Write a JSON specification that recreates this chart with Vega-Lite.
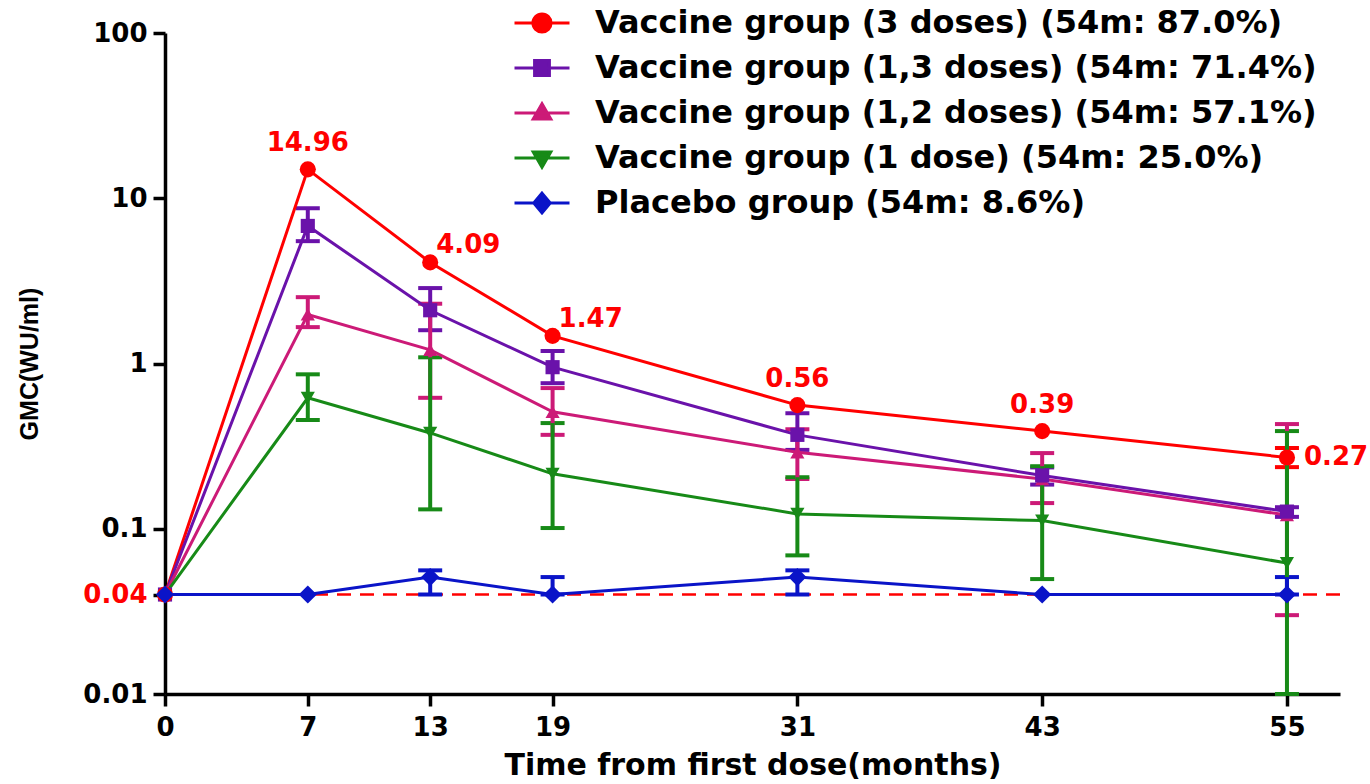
{
  "$schema": "https://vega.github.io/schema/vega-lite/v6.json",
  "autosize": "none",
  "width": 1175,
  "height": 661,
  "padding": {"left": 165, "top": 33, "right": 30, "bottom": 90},
  "background": "white",
  "config": {
    "view": {"stroke": null},
    "font": "DejaVu Sans",
    "axis": {
      "domainColor": "black", "domainWidth": 3.5, "tickColor": "black", "tickWidth": 3.5, "tickSize": 12,
      "labelFont": "DejaVu Sans", "labelFontWeight": "bold", "labelFontSize": 26, "labelColor": "black",
      "titleFont": "DejaVu Sans", "titleFontWeight": "bold", "titleColor": "black", "grid": false
    },
    "legend": {
      "orient": "none", "legendX": 348, "legendY": -39, "direction": "vertical",
      "labelFont": "DejaVu Sans", "labelFontWeight": "bold", "labelFontSize": 32, "labelColor": "black",
      "labelLimit": 1000, "symbolSize": 3025, "symbolStrokeWidth": 3, "labelOffset": 24,
      "rowPadding": 0, "padding": 0
    }
  },
  "datasets": {
    "series": [
      {"group": "Vaccine group (3 doses) (54m: 87.0%)", "t": 0, "gmc": 0.04},
      {"group": "Vaccine group (3 doses) (54m: 87.0%)", "t": 7, "gmc": 14.96},
      {"group": "Vaccine group (3 doses) (54m: 87.0%)", "t": 13, "gmc": 4.09},
      {"group": "Vaccine group (3 doses) (54m: 87.0%)", "t": 19, "gmc": 1.47},
      {"group": "Vaccine group (3 doses) (54m: 87.0%)", "t": 31, "gmc": 0.56},
      {"group": "Vaccine group (3 doses) (54m: 87.0%)", "t": 43, "gmc": 0.39},
      {"group": "Vaccine group (3 doses) (54m: 87.0%)", "t": 55, "gmc": 0.27},
      {"group": "Vaccine group (1,3 doses) (54m: 71.4%)", "t": 0, "gmc": 0.04},
      {"group": "Vaccine group (1,3 doses) (54m: 71.4%)", "t": 7, "gmc": 6.8},
      {"group": "Vaccine group (1,3 doses) (54m: 71.4%)", "t": 13, "gmc": 2.1},
      {"group": "Vaccine group (1,3 doses) (54m: 71.4%)", "t": 19, "gmc": 0.95},
      {"group": "Vaccine group (1,3 doses) (54m: 71.4%)", "t": 31, "gmc": 0.37},
      {"group": "Vaccine group (1,3 doses) (54m: 71.4%)", "t": 43, "gmc": 0.21},
      {"group": "Vaccine group (1,3 doses) (54m: 71.4%)", "t": 55, "gmc": 0.127},
      {"group": "Vaccine group (1,2 doses) (54m: 57.1%)", "t": 0, "gmc": 0.04},
      {"group": "Vaccine group (1,2 doses) (54m: 57.1%)", "t": 7, "gmc": 1.98},
      {"group": "Vaccine group (1,2 doses) (54m: 57.1%)", "t": 13, "gmc": 1.21},
      {"group": "Vaccine group (1,2 doses) (54m: 57.1%)", "t": 19, "gmc": 0.51},
      {"group": "Vaccine group (1,2 doses) (54m: 57.1%)", "t": 31, "gmc": 0.29},
      {"group": "Vaccine group (1,2 doses) (54m: 57.1%)", "t": 43, "gmc": 0.2},
      {"group": "Vaccine group (1,2 doses) (54m: 57.1%)", "t": 55, "gmc": 0.121},
      {"group": "Vaccine group (1 dose) (54m: 25.0%)", "t": 0, "gmc": 0.04},
      {"group": "Vaccine group (1 dose) (54m: 25.0%)", "t": 7, "gmc": 0.62},
      {"group": "Vaccine group (1 dose) (54m: 25.0%)", "t": 13, "gmc": 0.38},
      {"group": "Vaccine group (1 dose) (54m: 25.0%)", "t": 19, "gmc": 0.215},
      {"group": "Vaccine group (1 dose) (54m: 25.0%)", "t": 31, "gmc": 0.123},
      {"group": "Vaccine group (1 dose) (54m: 25.0%)", "t": 43, "gmc": 0.112},
      {"group": "Vaccine group (1 dose) (54m: 25.0%)", "t": 55, "gmc": 0.062},
      {"group": "Placebo group (54m: 8.6%)", "t": 0, "gmc": 0.04},
      {"group": "Placebo group (54m: 8.6%)", "t": 7, "gmc": 0.04},
      {"group": "Placebo group (54m: 8.6%)", "t": 13, "gmc": 0.051},
      {"group": "Placebo group (54m: 8.6%)", "t": 19, "gmc": 0.04},
      {"group": "Placebo group (54m: 8.6%)", "t": 31, "gmc": 0.051},
      {"group": "Placebo group (54m: 8.6%)", "t": 43, "gmc": 0.04},
      {"group": "Placebo group (54m: 8.6%)", "t": 55, "gmc": 0.04}
    ],
    "errs": [
      {"group": "Vaccine group (3 doses) (54m: 87.0%)", "t": 55, "lo": 0.236, "hi": 0.308},
      {"group": "Vaccine group (1,3 doses) (54m: 71.4%)", "t": 7, "lo": 5.5, "hi": 8.7},
      {"group": "Vaccine group (1,3 doses) (54m: 71.4%)", "t": 13, "lo": 1.59, "hi": 2.86},
      {"group": "Vaccine group (1,3 doses) (54m: 71.4%)", "t": 19, "lo": 0.76, "hi": 1.19},
      {"group": "Vaccine group (1,3 doses) (54m: 71.4%)", "t": 31, "lo": 0.3, "hi": 0.5},
      {"group": "Vaccine group (1,3 doses) (54m: 71.4%)", "t": 43, "lo": 0.185, "hi": 0.235},
      {"group": "Vaccine group (1,3 doses) (54m: 71.4%)", "t": 55, "lo": 0.118, "hi": 0.135},
      {"group": "Vaccine group (1,2 doses) (54m: 57.1%)", "t": 7, "lo": 1.66, "hi": 2.52},
      {"group": "Vaccine group (1,2 doses) (54m: 57.1%)", "t": 13, "lo": 0.62, "hi": 2.3},
      {"group": "Vaccine group (1,2 doses) (54m: 57.1%)", "t": 19, "lo": 0.37, "hi": 0.71},
      {"group": "Vaccine group (1,2 doses) (54m: 57.1%)", "t": 31, "lo": 0.2, "hi": 0.4},
      {"group": "Vaccine group (1,2 doses) (54m: 57.1%)", "t": 43, "lo": 0.143, "hi": 0.287},
      {"group": "Vaccine group (1,2 doses) (54m: 57.1%)", "t": 55, "lo": 0.03, "hi": 0.43},
      {"group": "Vaccine group (1 dose) (54m: 25.0%)", "t": 7, "lo": 0.455, "hi": 0.86},
      {"group": "Vaccine group (1 dose) (54m: 25.0%)", "t": 13, "lo": 0.131, "hi": 1.09},
      {"group": "Vaccine group (1 dose) (54m: 25.0%)", "t": 19, "lo": 0.101, "hi": 0.436},
      {"group": "Vaccine group (1 dose) (54m: 25.0%)", "t": 31, "lo": 0.069, "hi": 0.205},
      {"group": "Vaccine group (1 dose) (54m: 25.0%)", "t": 43, "lo": 0.0496, "hi": 0.239},
      {"group": "Vaccine group (1 dose) (54m: 25.0%)", "t": 55, "lo": 0.01, "hi": 0.39},
      {"group": "Placebo group (54m: 8.6%)", "t": 13, "lo": 0.04, "hi": 0.056},
      {"group": "Placebo group (54m: 8.6%)", "t": 19, "lo": 0.04, "hi": 0.051},
      {"group": "Placebo group (54m: 8.6%)", "t": 31, "lo": 0.04, "hi": 0.056},
      {"group": "Placebo group (54m: 8.6%)", "t": 55, "lo": 0.04, "hi": 0.051}
    ]
  },
  "layer": [
    {
      "data": {"name": "series"},
      "transform": [{"filter": "datum.t < 0"}],
      "mark": {"type": "point", "filled": true, "opacity": 1},
      "encoding": {
        "color": {"field": "group", "type": "nominal",
          "scale": {"domain": ["Vaccine group (3 doses) (54m: 87.0%)", "Vaccine group (1,3 doses) (54m: 71.4%)", "Vaccine group (1,2 doses) (54m: 57.1%)", "Vaccine group (1 dose) (54m: 25.0%)", "Placebo group (54m: 8.6%)"],
                    "range": ["#ff0000", "#6a12aa", "#cc1a77", "#178a17", "#0a14c8"]},
          "legend": {"title": null, "encode": {"symbols": {"update": {"stroke": {"scale": "color", "field": "value"}, "strokeWidth": {"value": 3}}}}}},
        "shape": {"field": "group", "type": "nominal",
          "scale": {"domain": ["Vaccine group (3 doses) (54m: 87.0%)", "Vaccine group (1,3 doses) (54m: 71.4%)", "Vaccine group (1,2 doses) (54m: 57.1%)", "Vaccine group (1 dose) (54m: 25.0%)", "Placebo group (54m: 8.6%)"],
                    "range": [
                      "M-1,0H1M0.33,0A0.33,0.33,0,1,1,-0.33,0A0.33,0.33,0,1,1,0.33,0Z",
                      "M-1,0H1M-0.27,-0.27H0.27V0.27H-0.27Z",
                      "M-1,0H1M0,-0.34L0.32,0.22H-0.32Z",
                      "M-1,0H1M0,0.34L0.32,-0.22H-0.32Z",
                      "M-1,0H1M0,-0.36L0.3,0L0,0.36L-0.3,0Z"
                    ]},
          "legend": {"title": null}}
      }
    },
    {
      "data": {"values": [{"ref": 0.04}]},
      "mark": {"type": "rule", "color": "#ff0000", "strokeDash": [14, 9], "strokeWidth": 2.5},
      "encoding": {
        "y": {"field": "ref", "type": "quantitative", "scale": {"type": "log", "domain": [0.01, 100], "nice": false},
          "title": "GMC(WU/ml)",
          "axis": {"values": [0.01, 0.04, 0.1, 1, 10, 100], "labelExpr": "format(datum.value, '~g')", "labelPadding": 6,
            "labelColor": {"condition": {"test": "abs(datum.value - 0.04) < 1e-9", "value": "#ff0000"}, "value": "black"},
            "titleFont": "Liberation Sans", "titleFontSize": 25, "titlePadding": 40}}
      }
    },
    {
      "data": {"name": "errs"},
      "mark": {"type": "errorbar", "thickness": 4, "ticks": {"size": 24, "thickness": 4, "opacity": 1}, "rule": {"opacity": 1}},
      "encoding": {
        "x": {"field": "t", "type": "quantitative", "scale": {"domain": [0, 57.6], "nice": false, "zero": false},
          "title": "Time from first dose(months)",
          "axis": {"values": [0, 7, 13, 19, 31, 43, 55], "labelFlush": false, "labelPadding": 8, "titleFontSize": 30, "titlePadding": 10}},
        "y": {"field": "lo", "type": "quantitative", "title": "GMC(WU/ml)"},
        "y2": {"field": "hi"},
        "color": {"field": "group", "type": "nominal", "legend": null}
      }
    },
    {
      "data": {"name": "series"},
      "mark": {"type": "line", "strokeWidth": 3},
      "encoding": {
        "x": {"field": "t", "type": "quantitative", "title": "Time from first dose(months)"},
        "y": {"field": "gmc", "type": "quantitative", "title": "GMC(WU/ml)"},
        "color": {"field": "group", "type": "nominal", "legend": null}
      }
    },
    {
      "data": {"name": "series"},
      "transform": [{"filter": "datum.group == 'Vaccine group (1 dose) (54m: 25.0%)'"}],
      "mark": {"type": "point", "shape": "triangle-down", "filled": true, "opacity": 1, "size": 200},
      "encoding": {
        "x": {"field": "t", "type": "quantitative", "title": "Time from first dose(months)"},
        "y": {"field": "gmc", "type": "quantitative", "title": "GMC(WU/ml)"},
        "color": {"field": "group", "type": "nominal", "legend": null}
      }
    },
    {
      "data": {"name": "series"},
      "transform": [{"filter": "datum.group == 'Vaccine group (1,2 doses) (54m: 57.1%)'"}],
      "mark": {"type": "point", "shape": "triangle-up", "filled": true, "opacity": 1, "size": 200},
      "encoding": {
        "x": {"field": "t", "type": "quantitative", "title": "Time from first dose(months)"},
        "y": {"field": "gmc", "type": "quantitative", "title": "GMC(WU/ml)"},
        "color": {"field": "group", "type": "nominal", "legend": null}
      }
    },
    {
      "data": {"name": "series"},
      "transform": [{"filter": "datum.group == 'Vaccine group (1,3 doses) (54m: 71.4%)'"}],
      "mark": {"type": "point", "shape": "square", "filled": true, "opacity": 1, "size": 200},
      "encoding": {
        "x": {"field": "t", "type": "quantitative", "title": "Time from first dose(months)"},
        "y": {"field": "gmc", "type": "quantitative", "title": "GMC(WU/ml)"},
        "color": {"field": "group", "type": "nominal", "legend": null}
      }
    },
    {
      "data": {"name": "series"},
      "transform": [{"filter": "datum.group == 'Vaccine group (3 doses) (54m: 87.0%)'"}],
      "mark": {"type": "point", "shape": "circle", "filled": true, "opacity": 1, "size": 260},
      "encoding": {
        "x": {"field": "t", "type": "quantitative", "title": "Time from first dose(months)"},
        "y": {"field": "gmc", "type": "quantitative", "title": "GMC(WU/ml)"},
        "color": {"field": "group", "type": "nominal", "legend": null}
      }
    },
    {
      "data": {"name": "series"},
      "transform": [{"filter": "datum.group == 'Placebo group (54m: 8.6%)'"}],
      "mark": {"type": "point", "shape": "diamond", "filled": true, "opacity": 1, "size": 330},
      "encoding": {
        "x": {"field": "t", "type": "quantitative", "title": "Time from first dose(months)"},
        "y": {"field": "gmc", "type": "quantitative", "title": "GMC(WU/ml)"},
        "color": {"field": "group", "type": "nominal", "legend": null}
      }
    },
    {
      "data": {"name": "series"},
      "transform": [{"filter": "datum.group == 'Vaccine group (3 doses) (54m: 87.0%)' && (datum.t == 7 || datum.t == 31 || datum.t == 43)"}],
      "mark": {"type": "text", "color": "#ff0000", "font": "DejaVu Sans", "fontWeight": "bold", "fontSize": 26, "align": "center", "baseline": "middle", "dy": -26},
      "encoding": {
        "x": {"field": "t", "type": "quantitative", "title": "Time from first dose(months)"},
        "y": {"field": "gmc", "type": "quantitative", "title": "GMC(WU/ml)"},
        "text": {"field": "gmc", "type": "quantitative", "format": ".2f"}
      }
    },
    {
      "data": {"name": "series"},
      "transform": [{"filter": "datum.group == 'Vaccine group (3 doses) (54m: 87.0%)' && (datum.t == 13 || datum.t == 19)"}],
      "mark": {"type": "text", "color": "#ff0000", "font": "DejaVu Sans", "fontWeight": "bold", "fontSize": 26, "align": "left", "baseline": "middle", "dx": 6, "dy": -17},
      "encoding": {
        "x": {"field": "t", "type": "quantitative", "title": "Time from first dose(months)"},
        "y": {"field": "gmc", "type": "quantitative", "title": "GMC(WU/ml)"},
        "text": {"field": "gmc", "type": "quantitative", "format": ".2f"}
      }
    },
    {
      "data": {"name": "series"},
      "transform": [{"filter": "datum.group == 'Vaccine group (3 doses) (54m: 87.0%)' && datum.t == 55"}],
      "mark": {"type": "text", "color": "#ff0000", "font": "DejaVu Sans", "fontWeight": "bold", "fontSize": 26, "align": "left", "baseline": "middle", "dx": 17},
      "encoding": {
        "x": {"field": "t", "type": "quantitative", "title": "Time from first dose(months)"},
        "y": {"field": "gmc", "type": "quantitative", "title": "GMC(WU/ml)"},
        "text": {"field": "gmc", "type": "quantitative", "format": ".2f"}
      }
    }
  ]
}
